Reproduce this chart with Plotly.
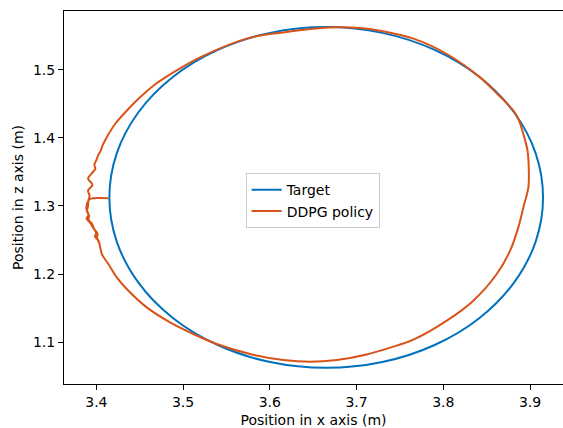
import plotly.graph_objects as go

# Target trajectory
target_x = [3.415, 3.4235, 3.4485, 3.4882, 3.540, 3.6003, 3.665, 3.7297, 3.790, 3.8418,
            3.8815, 3.9065, 3.915, 3.9065, 3.8815, 3.8418, 3.790, 3.7297, 3.665, 3.6003,
            3.540, 3.4882, 3.4485, 3.4235, 3.415]
target_z = [1.3125, 1.2478, 1.1875, 1.1357, 1.096, 1.071, 1.0625, 1.071, 1.096, 1.1357,
            1.1875, 1.2478, 1.3125, 1.3772, 1.4375, 1.4893, 1.529, 1.554, 1.5625, 1.554,
            1.529, 1.4893, 1.4375, 1.3772, 1.3125]

# DDPG policy trajectory
ddpg_x = [3.4138, 3.3927, 3.3893, 3.3887, 3.3910, 3.3887, 3.3927, 3.3962, 3.3997, 3.3985,
          3.4025, 3.4043, 3.4066, 3.4138, 3.4235, 3.4350, 3.4581, 3.4850, 3.5118, 3.5388,
          3.5772, 3.6156, 3.6464, 3.6772, 3.7117, 3.7386, 3.7655, 3.8040, 3.8346,
          3.8616, 3.8770, 3.8865, 3.8923, 3.8981, 3.8986, 3.8971, 3.8923, 3.8873, 3.8808,
          3.8620, 3.8424, 3.8040, 3.7655, 3.7271, 3.7040, 3.6732, 3.6156, 3.5772, 3.5196,
          3.4888, 3.4657, 3.4504, 3.4350, 3.4216, 3.4120, 3.4066, 3.4051, 3.4020, 3.3997,
          3.3977, 3.3988, 3.3954, 3.3904, 3.3956, 3.3904, 3.3922, 3.3910, 3.3904, 3.3893,
          3.3916, 3.3910, 3.3950, 3.3973, 3.4014, 3.4008, 3.4031]
ddpg_z = [1.3112, 1.3103, 1.3034, 1.2946, 1.2872, 1.2814, 1.2755, 1.2682, 1.2608, 1.2550,
          1.2491, 1.2403, 1.2285, 1.2149, 1.1952, 1.1782, 1.1512, 1.1292, 1.1122, 1.0975,
          1.0828, 1.0740, 1.0715, 1.0740, 1.0821, 1.0921, 1.1038, 1.1317, 1.1610,
          1.2002, 1.2344, 1.2686, 1.2979, 1.3273, 1.3518, 1.3811, 1.4057, 1.4252, 1.4398,
          1.4648, 1.4887, 1.5230, 1.5455, 1.5572, 1.5612, 1.5621, 1.5547, 1.5470, 1.5181,
          1.4960, 1.4765, 1.4594, 1.4398, 1.4203, 1.4007, 1.3870, 1.3811, 1.3738, 1.3665,
          1.3606, 1.3547, 1.3489, 1.3401, 1.3313, 1.3225, 1.3151, 1.3092, 1.3004, 1.2916,
          1.2858, 1.2799, 1.2740, 1.2667, 1.2594, 1.2535, 1.2461]

x_ticks = [3.4, 3.5, 3.6, 3.7, 3.8, 3.9]
z_ticks = [1.1, 1.2, 1.3, 1.4, 1.5]

fig = go.Figure()
fig.add_trace(go.Scatter(x=target_x, y=target_z, mode="lines", name="Target",
                         line=dict(color="#0072BD", width=2, shape="spline", smoothing=1.0)))
fig.add_trace(go.Scatter(x=ddpg_x, y=ddpg_z, mode="lines", name="DDPG policy",
                         line=dict(color="#D95319", width=2, shape="spline", smoothing=0.9)))

font = dict(family="DejaVu Sans", size=14, color="#000000")
fig.update_layout(
    width=563, height=428,
    margin=dict(l=64, r=0, t=11, b=44, autoexpand=False),
    paper_bgcolor="white", plot_bgcolor="white",
    font=font,
    showlegend=True,
    legend=dict(x=0.364, y=0.565, xanchor="left", yanchor="top",
                bgcolor="rgba(255,255,255,0.8)", bordercolor="#cccccc", borderwidth=1,
                font=font, tracegroupgap=0),
    hovermode=False,
)
fig.update_xaxes(range=[3.3627, 3.938], tickvals=x_ticks, ticktext=[f"{v:.1f}" for v in x_ticks],
                 showgrid=False, zeroline=False, showline=True, linecolor="black", linewidth=1,
                 mirror=True, ticks="outside", ticklen=5, tickcolor="black", automargin=False,
                 title=dict(text="Position in x axis (m)", font=font, standoff=8))
fig.update_yaxes(range=[1.0388, 1.5861], tickvals=z_ticks, ticktext=[f"{v:.1f}" for v in z_ticks],
                 showgrid=False, zeroline=False, showline=True, linecolor="black", linewidth=1,
                 mirror=False, ticks="outside", ticklen=5, tickcolor="black", automargin=False,
                 title=dict(text="Position in z axis (m)", font=font, standoff=6))

fig.write_html(
    "out.html",
    config={"displayModeBar": False},
    post_script="document.body.style.margin='0';document.body.style.overflow='hidden';"
                "document.documentElement.style.overflow='hidden';",
)
